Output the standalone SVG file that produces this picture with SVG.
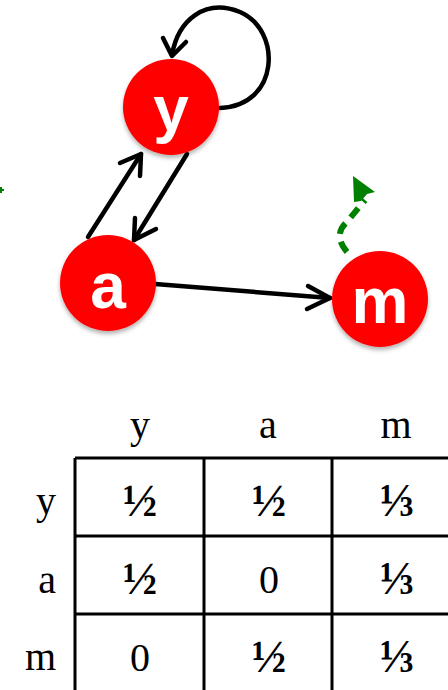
<svg xmlns="http://www.w3.org/2000/svg" width="448" height="690" viewBox="0 0 448 690">
<style>
.node{fill:#ff0000;}
.nl{font-family:"Liberation Sans",Arial,sans-serif;font-weight:bold;font-size:64px;fill:#fff;text-anchor:middle;}
.edge{fill:none;stroke:#000;stroke-width:4.5;stroke-linecap:round;stroke-linejoin:round;}
.tt{font-family:"Liberation Serif","DejaVu Serif",serif;font-size:40px;fill:#000;text-anchor:middle;}
.fr{font-weight:bold;font-size:46px;}
.grid{stroke:#000;stroke-width:3;fill:none;}
</style>
<defs>
<filter id="sh" x="-20%" y="-20%" width="140%" height="150%">
<feDropShadow dx="0" dy="3" stdDeviation="2" flood-color="#000" flood-opacity="0.3"/>
</filter>
</defs>
<g id="connectors">
<path class="edge" d="M220,108 C280,106 282,30 240,12 C205,-2 178,20 172,55"/>
<path class="edge" d="M163,38 L172,56 L186,42"/>
<path class="edge" d="M88,237 L141,154"/>
<path class="edge" d="M120,163 L141,154 L140,176"/>
<path class="edge" d="M187,154 L134,240"/>
<path class="edge" d="M135,218 L134,240 L156,229"/>
<path class="edge" d="M155,284 L330,298"/>
<path class="edge" d="M308,286 L330,298 L307,309"/>
<path d="M347,252 C335,238 340,228 347,222 L365,200" fill="none" stroke="#008000" stroke-width="6" stroke-dasharray="12,8"/>
<polygon points="353,176 375,192 367,194 361,201 354,202" fill="#008000"/>
<polygon points="0,187 2,187 2,189 4,189 4,191 2,191 2,193 0,193" fill="#008000"/>
</g>
<g id="node-y">
<circle class="node" cx="171" cy="107" r="48" filter="url(#sh)"/>
<text class="nl" x="171" y="131">y</text>
</g>
<g id="node-a">
<circle class="node" cx="108" cy="283" r="48" filter="url(#sh)"/>
<text class="nl" x="108" y="308">a</text>
</g>
<g id="node-m">
<circle class="node" cx="380" cy="299" r="48" filter="url(#sh)"/>
<text class="nl" x="380" y="323">m</text>
</g>
<g id="table">
<path class="grid" d="M75,458 H450 M75,536 H450 M75,614 H450 M75,458 V692 M204,458 V692 M332,458 V692"/>
<text class="tt" x="140" y="438">y</text>
<text class="tt" x="268" y="438">a</text>
<text class="tt" x="396" y="438">m</text>
<text class="tt" x="56" y="514" style="text-anchor:end">y</text>
<text class="tt" x="56" y="593" style="text-anchor:end">a</text>
<text class="tt" x="56" y="670" style="text-anchor:end">m</text>
<text class="tt fr" x="140" y="516">½</text>
<text class="tt fr" x="269" y="516">½</text>
<text class="tt fr" x="397" y="516">⅓</text>
<text class="tt fr" x="140" y="594">½</text>
<text class="tt" x="269" y="593">0</text>
<text class="tt fr" x="397" y="594">⅓</text>
<text class="tt" x="140" y="671">0</text>
<text class="tt fr" x="269" y="672">½</text>
<text class="tt fr" x="397" y="672">⅓</text>
</g>
</svg>
